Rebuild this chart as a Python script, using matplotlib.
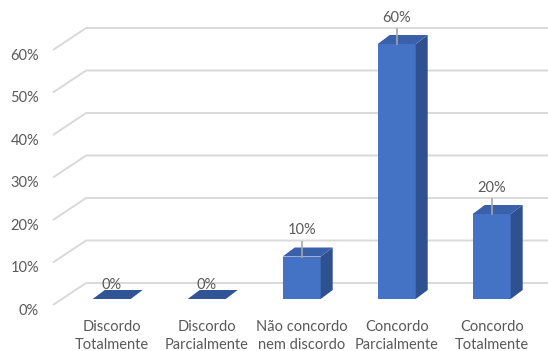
import matplotlib.pyplot as plt
from matplotlib.patches import Polygon

# chart data
categories = ["Discordo\nTotalmente", "Discordo\nParcialmente", "Não concordo\nnem discordo",
              "Concordo\nParcialmente", "Concordo\nTotalmente"]
values = [0, 0, 10, 60, 20]
grid_ticks = [0, 10, 20, 30, 40, 50, 60]
tick_labels = ["0%", "10%", "20%", "30%", "40%", "50%", "60%"]

# oblique "3D" look: depth offsets in data units
PX_X = 95.0      # pixels per category
PX_Y = 4.25      # pixels per percent
bar_dx, bar_dy = 12 / PX_X, 9 / PX_Y
front_dx, front_dy = -8 / PX_X, -6 / PX_Y
back_dy = 16 / PX_Y
wall_front_x, wall_back_x = -0.618, -0.27

FRONT = "#4472c4"
TOP = "#3a60a9"
SIDE = "#2f5190"
FLAT = "#2f5597"
GRID = "#d9d9d9"
TEXT = "#595959"
FS = 10.5
plt.rcParams['font.family'] = ['Lato', 'DejaVu Sans']

fig = plt.figure(figsize=(5.48, 3.51), dpi=100)
ax = fig.add_axes([0, 0, 1, 1])
x_max = (548 - 111.7) / PX_X
ax.set_xlim(-111.7 / PX_X, x_max)
ax.set_ylim(-52 / PX_Y, 299 / PX_Y)
ax.axis('off')

# gridlines: diagonal on the left wall then horizontal along the back wall
for g, lab in zip(grid_ticks, tick_labels):
    ax.plot([wall_front_x, wall_back_x, x_max], [g + front_dy, g + back_dy, g + back_dy],
            color=GRID, lw=1.4, zorder=1, solid_capstyle='butt')
    ax.text(-0.765, g + front_dy - 1.3, lab, ha='right', va='center', fontsize=FS, color=TEXT)

w = 0.2
for i, v in enumerate(values):
    x0, x1 = i - w, i + w
    if v == 0:
        ax.add_patch(Polygon([(x0, 0), (x1, 0), (x1 + bar_dx, bar_dy), (x0 + bar_dx, bar_dy)],
                             closed=True, color=FLAT, lw=0, zorder=3))
        ax.text(i, 3.4, "0%", ha='center', va='center', fontsize=FS, color=TEXT, zorder=2)
    else:
        ax.add_patch(Polygon([(x0, 0), (x1, 0), (x1, v), (x0, v)], closed=True,
                             color=FRONT, lw=0, zorder=3))
        ax.add_patch(Polygon([(x1, 0), (x1 + bar_dx, bar_dy), (x1 + bar_dx, v + bar_dy), (x1, v)],
                             closed=True, color=SIDE, lw=0, zorder=3))
        ax.add_patch(Polygon([(x0, v), (x1, v), (x1 + bar_dx, v + bar_dy), (x0 + bar_dx, v + bar_dy)],
                             closed=True, color=TOP, lw=0, zorder=3))
        ax.plot([i, i], [v, v + 3.5], color="#a6a6a6", lw=1.2, zorder=4)
        ax.text(i, v + 6.2, f"{v}%", ha='center', va='center', fontsize=FS, color=TEXT)
    ax.text(i, -5.0, categories[i], ha='center', va='top', fontsize=FS, color=TEXT,
            linespacing=1.3)

fig.savefig("out.png", dpi=100)
